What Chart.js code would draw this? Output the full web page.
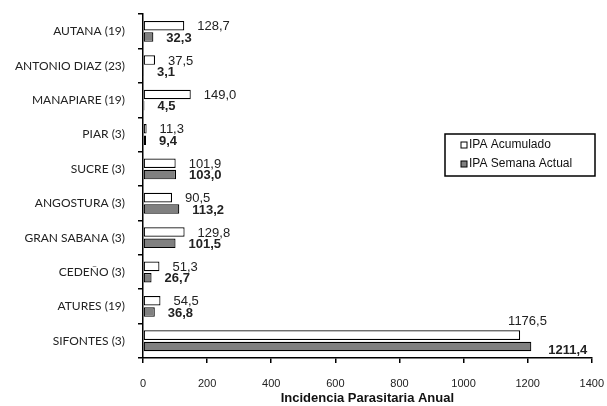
<!DOCTYPE html>
<html>
<head>
<meta charset="utf-8">
<script src="https://cdn.jsdelivr.net/npm/chart.js@4.4.0/dist/chart.umd.min.js"></script>
<style>
  html, body { margin: 0; padding: 0; background: #fff; overflow: hidden; }
  #page { width: 607px; height: 406px; position: relative; overflow: hidden; }
  /* canvas a little bigger than the page so the plot lands where the original has it */
  #wrap { width: 618px; height: 412px; position: absolute; left: 0; top: -6px; }
</style>
</head>
<body>
<div id="page"><div id="wrap"><canvas id="chart"></canvas></div></div>
<script>
var categories = ['AUTANA (19)', 'ANTONIO DIAZ (23)', 'MANAPIARE (19)', 'PIAR (3)', 'SUCRE (3)',
                  'ANGOSTURA (3)', 'GRAN SABANA (3)', 'CEDEÑO (3)', 'ATURES (19)', 'SIFONTES (3)'];
var ipaAcumulado = [128.7, 37.5, 149.0, 11.3, 101.9, 90.5, 129.8, 51.3, 54.5, 1176.5];
var ipaSemana = [32.3, 3.1, 4.5, 9.4, 103.0, 113.2, 101.5, 26.7, 36.8, 1211.4];
var xTicks = [0, 200, 400, 600, 800, 1000, 1200, 1400];

function fmt(v) {
    return v.toFixed(1).replace('.', ',');
}

// value labels next to each bar
var valueLabels = {
    id: 'valueLabels',
    afterDatasetsDraw: function(chart) {
        var ctx = chart.ctx;
        var area = chart.chartArea;
        ctx.save();
        ctx.fillStyle = '#222';
        ctx.textBaseline = 'middle';
        ctx.textAlign = 'left';
        chart.data.datasets.forEach(function(ds, di) {
            var meta = chart.getDatasetMeta(di);
            ctx.font = (di == 1 ? 'bold ' : '') + '13px "Liberation Sans", Arial, sans-serif';
            meta.data.forEach(function(bar, i) {
                var txt = fmt(ds.data[i]);
                var x = bar.x + 13;
                var y = bar.y + 1;
                if (bar.x > area.left + area.width * 0.75) {
                    // long bars: put the label above / beside the end
                    if (di == 0) { x = bar.x - 12; y = bar.y - 14; }
                    else { x = bar.x + 17; y = bar.y + 4; }
                }
                ctx.fillText(txt, x, y);
            });
        });
        ctx.restore();
    }
};

// boxed legend on the right side (page coords, canvas is shifted 6px up)
var boxLegend = {
    id: 'boxLegend',
    afterDraw: function(chart) {
        var ctx = chart.ctx;
        var x = 445, y = 134 + 6, w = 150, h = 42;
        ctx.save();
        ctx.fillStyle = '#fff';
        ctx.fillRect(x, y, w, h);
        ctx.strokeStyle = '#000';
        ctx.lineWidth = 1.5;
        ctx.strokeRect(x, y, w, h);
        ctx.font = '12px "Liberation Sans", Arial, sans-serif';
        ctx.textBaseline = 'middle';
        chart.data.datasets.forEach(function(ds, i) {
            var cy = y + 11 + i * 19;
            ctx.fillStyle = ds.backgroundColor;
            ctx.fillRect(x + 16, cy - 3, 6, 6);
            ctx.lineWidth = 1;
            ctx.strokeStyle = '#000';
            ctx.strokeRect(x + 16, cy - 3, 6, 6);
            ctx.fillStyle = '#111';
            ctx.fillText(ds.label, x + 24, cy);
        });
        ctx.restore();
    }
};

var ctx = document.getElementById('chart').getContext('2d');
var chart = new Chart(ctx, {
    type: 'bar',
    data: {
        labels: categories,
        datasets: [
            { label: 'IPA Acumulado', data: ipaAcumulado, backgroundColor: '#ffffff',
              borderColor: '#000', borderWidth: 1.2, borderSkipped: false },
            { label: 'IPA Semana Actual', data: ipaSemana, backgroundColor: '#808080',
              borderColor: '#000', borderWidth: 1.2, borderSkipped: false }
        ]
    },
    options: {
        indexAxis: 'y',
        responsive: true,
        maintainAspectRatio: false,
        animation: false,
        layout: { padding: { top: 4, right: 4, bottom: 0, left: 0 } },
        datasets: { bar: { categoryPercentage: 0.66, barPercentage: 0.84 } },
        plugins: {
            legend: { display: false },
            tooltip: { enabled: false }
        },
        scales: {
            x: {
                min: 0, max: 1400,
                afterBuildTicks: function(axis) {
                    axis.ticks = xTicks.map(function(v) { return { value: v }; });
                },
                afterFit: function(axis) { axis.height = 48; },
                grid: { drawOnChartArea: false, color: '#000', tickLength: 5, lineWidth: 1.5 },
                border: { color: '#000', width: 1.5 },
                ticks: { color: '#222', font: { size: 11, family: '"Liberation Sans", Arial, sans-serif' },
                         padding: 14, maxRotation: 0,
                         callback: function(v) { return String(v); } },
                title: { display: true, text: 'Incidencia Parasitaria Anual', color: '#111',
                         font: { size: 13, weight: 'bold', family: '"Liberation Sans", Arial, sans-serif' },
                         padding: { top: 0, bottom: 0 } }
            },
            y: {
                afterFit: function(axis) { axis.width = 143; },
                grid: { drawOnChartArea: false, offset: true, color: '#000', tickLength: 5, lineWidth: 1.5 },
                border: { color: '#000', width: 1.5 },
                ticks: { color: '#222', font: { size: 12, family: 'Lato, "Open Sans", sans-serif' }, padding: 13 }
            }
        }
    },
    plugins: [valueLabels, boxLegend]
});
</script>
</body>
</html>
